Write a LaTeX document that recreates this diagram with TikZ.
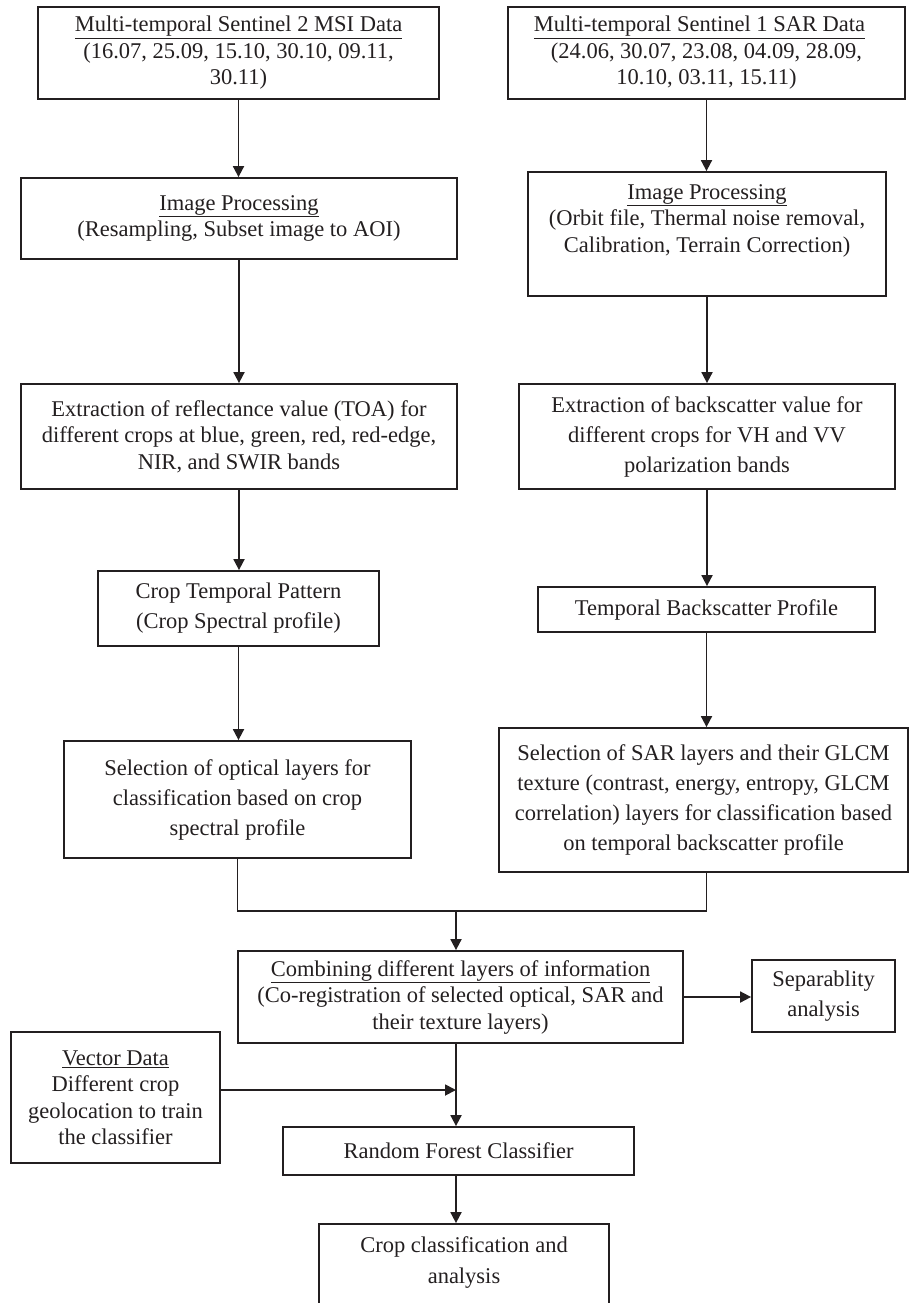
\documentclass[tikz,border=0pt]{standalone}
\usepackage{fontspec}
\setmainfont{Liberation Serif}
\usetikzlibrary{arrows.meta,calc}
\definecolor{ink}{RGB}{35,31,32}
\begin{document}
\begin{tikzpicture}[x=1pt,y=-1pt,
  box/.style={draw=ink, text=ink, line width=1.8pt, inner sep=0pt, align=center,
    font=\fontsize{22.5}{26.5}\selectfont},
  wide/.style={font=\fontsize{22.5}{30}\selectfont},
  lbl/.style={text=ink, inner sep=0pt, align=center, anchor=north, yshift=-13pt},
  line/.style={draw=ink, line width=1.8pt},
  arr/.style={line, -{Triangle[length=11pt,width=11pt]}}]
\clip (0,0) rectangle (909,1303);
\useasboundingbox (0,0) rectangle (909,1303);

\node[box, minimum width=401pt, minimum height=92pt] (b1) at (238.5,53)
  {\underline{Multi-temporal Sentinel 2 MSI Data}\\(16.07, 25.09, 15.10, 30.10, 09.11,\\30.11)};
\node[box, minimum width=397pt, minimum height=92pt] (b2) at (706.5,53)
  {\underline{Multi-temporal Sentinel 1 SAR Data}\hspace*{14pt}\\(24.06, 30.07, 23.08, 04.09, 28.09,\\10.10, 03.11, 15.11)};
\node[box, minimum width=436pt, minimum height=81pt] (b3) at (239,218.5)
  {\underline{Image Processing}\\(Resampling, Subset image to AOI)};
\node[box, minimum width=358pt, minimum height=124pt,
  label={[lbl, font=\fontsize{22.5}{26.5}\selectfont]north:{\underline{Image Processing}\\(Orbit file, Thermal noise removal,\\Calibration, Terrain Correction)}}]
  (b4) at (707,234) {};
\node[box, minimum width=436pt, minimum height=105pt] (b5) at (239,436.5)
  {Extraction of reflectance value (TOA) for\\different crops at blue, green, red, red-edge,\\NIR, and SWIR bands};
\node[box, wide, minimum width=376pt, minimum height=105pt] (b6) at (707,436.5)
  {Extraction of backscatter value for\\different crops for VH and VV\\polarization bands};
\node[box, wide, minimum width=281pt, minimum height=75pt] (b7) at (238.5,608.5)
  {Crop Temporal Pattern\\(Crop Spectral profile)};
\node[box, minimum width=337pt, minimum height=45pt] (b8) at (706.5,609.5)
  {Temporal Backscatter Profile};
\node[box, wide, minimum width=347pt, minimum height=117pt] (b9) at (237.5,799.5)
  {Selection of optical layers for\\classification based on crop\\spectral profile};
\node[box, wide, minimum width=409pt, minimum height=144pt] (b10) at (703.5,800)
  {Selection of SAR layers and their GLCM\\texture (contrast, energy, entropy, GLCM\\correlation) layers for classification based\\on temporal backscatter profile};
\node[box, minimum width=445pt, minimum height=92pt] (b11) at (460.5,997)
  {\underline{Combining different layers of information}\\(Co-registration of selected optical, SAR and\\their texture layers)};
\node[box, wide, minimum width=143pt, minimum height=72pt] (b12) at (823.5,996)
  {Separablity\\analysis};
\node[box, minimum width=209pt, minimum height=131pt] (b13) at (115.5,1097.5)
  {\underline{Vector Data}\\Different crop\\geolocation to train\\the classifier};
\node[box, minimum width=351pt, minimum height=48pt] (b14) at (458.5,1151)
  {Random Forest Classifier};
\node[box, minimum width=290pt, minimum height=90pt,
  label={[lbl, font=\fontsize{22.5}{31}\selectfont]north:{Crop classification and\\analysis}}]
  (b15) at (464,1269) {};

\coordinate (j) at (456,911);

\draw[arr] (b1.south) -- (b1.south |- b3.north);
\draw[arr] (b2.south) -- (b2.south |- b4.north);
\draw[arr] (b3.south) -- (b3.south |- b5.north);
\draw[arr] (b4.south) -- (b4.south |- b6.north);
\draw[arr] (b5.south) -- (b5.south |- b7.north);
\draw[arr] (b6.south) -- (b6.south |- b8.north);
\draw[arr] (b7.south) -- (b7.south |- b9.north);
\draw[arr] (b8.south) -- (b8.south |- b10.north);
\draw[line] (b9.south) |- (j) -| (b8.south |- b10.south);
\draw[arr] (j) -- (j |- b11.north);
\draw[arr] (b11.east) -- (b11.east -| b12.west);
\draw[arr] (j |- b11.south) -- (j |- b14.north);
\draw[arr] ([yshift=7.5pt]b13.east) -- ([yshift=7.5pt]b13.east -| j);
\draw[arr] (j |- b14.south) -- (j |- b15.north);
\end{tikzpicture}
\end{document}
